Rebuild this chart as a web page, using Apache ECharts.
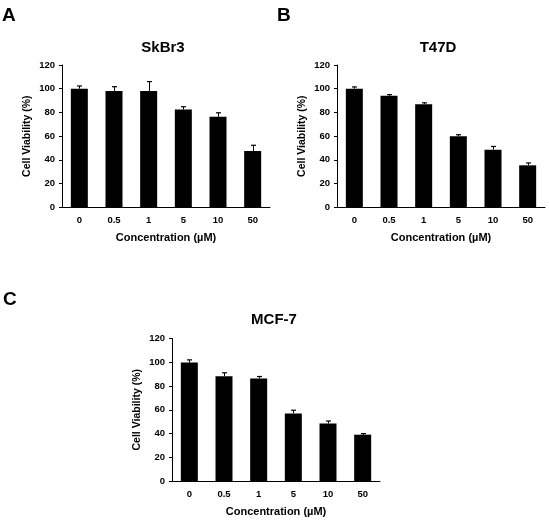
<!DOCTYPE html>
<html>
<head>
<meta charset="utf-8">
<script src="https://cdn.jsdelivr.net/npm/echarts@6/dist/echarts.min.js"></script>
<style>
html,body{margin:0;padding:0;background:#fff;}
#main{width:549px;height:520px;}
</style>
</head>
<body>
<div id="main"></div>
<script>
var categories = ['0', '0.5', '1', '5', '10', '50'];
var skbr3Values = [100, 98, 98, 82.5, 76.3, 47.5];
var skbr3Errors = [2.3, 3.7, 8, 2.3, 3.4, 4.8];
var t47dValues = [100, 94, 86.9, 60, 48.6, 35.4];
var t47dErrors = [1.5, 1, 1.2, 1.2, 2.7, 2];
var mcf7Values = [99.8, 88.3, 86.4, 56.9, 48.5, 39];
var mcf7Errors = [2.2, 2.8, 1.6, 2.7, 2, 0.9];
var yTicks = { min: 0, max: 120, interval: 20 };
var panelLetters = ['A', 'B', 'C'];
var panelTitles = ['SkBr3', 'T47D', 'MCF-7'];
var xName = 'Concentration (\u00b5M)';
var yName = 'Cell Viability (%)';

var FONT = '"Liberation Sans", Arial, sans-serif';
var grids = [
  { left: 62, top: 65, width: 208, height: 142.3 },
  { left: 337, top: 65, width: 208, height: 142.3 },
  { left: 172, top: 338.5, width: 208, height: 142.5 }
];
var letterPos = [
  { left: 2, top: 6 }, { left: 277, top: 6 }, { left: 3, top: 290 }
];
var titlePos = [
  { left: 163, top: 40 }, { left: 438, top: 40 }, { left: 274, top: 312 }
];
var seriesValues = [skbr3Values, t47dValues, mcf7Values];
var seriesErrors = [skbr3Errors, t47dErrors, mcf7Errors];

var titles = [];
var xAxes = [], yAxes = [], series = [];
for (var i = 0; i < 3; i++) {
  titles.push({ text: panelLetters[i], left: letterPos[i].left, top: letterPos[i].top, padding: 0,
    textStyle: { fontFamily: FONT, fontWeight: 'bold', fontSize: 19, color: '#000' } });
  titles.push({ text: panelTitles[i], left: titlePos[i].left, top: titlePos[i].top, textAlign: 'center', padding: 0,
    textStyle: { fontFamily: FONT, fontWeight: 'bold', fontSize: 15, color: '#000' } });
  xAxes.push({
    type: 'category', gridIndex: i, data: categories,
    name: xName, nameLocation: 'middle', nameGap: 25,
    nameTextStyle: { fontFamily: FONT, fontWeight: 'bold', fontSize: 11, color: '#000' },
    axisLine: { lineStyle: { color: '#000', width: 1 } },
    axisTick: { show: false },
    axisLabel: { fontFamily: FONT, fontWeight: 'bold', fontSize: 9.5, color: '#000', margin: 8 }
  });
  yAxes.push({
    type: 'value', gridIndex: i, min: yTicks.min, max: yTicks.max, interval: yTicks.interval,
    name: yName, nameLocation: 'middle', nameGap: 29,
    nameTextStyle: { fontFamily: FONT, fontWeight: 'bold', fontSize: 10.5, color: '#000' },
    axisLine: { show: true, lineStyle: { color: '#000', width: 1 } },
    axisTick: { show: true, length: 3, lineStyle: { color: '#000' } },
    splitLine: { show: false },
    axisLabel: { fontFamily: FONT, fontWeight: 'bold', fontSize: 9.5, color: '#000', margin: 7 }
  });
  series.push({
    type: 'bar', xAxisIndex: i, yAxisIndex: i, data: seriesValues[i],
    barWidth: 17, itemStyle: { color: '#000' }, silent: true
  });
  (function (vals, errs, idx) {
    series.push({
      type: 'custom', xAxisIndex: idx, yAxisIndex: idx,
      data: vals.map(function (v, k) { return [k, v, errs[k]]; }),
      renderItem: function (params, api) {
        var k = api.value(0), v = api.value(1), e = api.value(2);
        var p0 = api.coord([k, v]);
        var p1 = api.coord([k, v + e]);
        var x = Math.round(p0[0]) + 0.5;
        return {
          type: 'group',
          children: [
            { type: 'line', shape: { x1: x, y1: p0[1], x2: x, y2: p1[1] }, style: { stroke: '#000', lineWidth: 1 } },
            { type: 'line', shape: { x1: x - 2.5, y1: p1[1], x2: x + 2.5, y2: p1[1] }, style: { stroke: '#000', lineWidth: 1.2 } }
          ]
        };
      },
      silent: true, z: 3
    });
  })(seriesValues[i], seriesErrors[i], i);
}

var chart = echarts.init(document.getElementById('main'), null, { renderer: 'canvas' });
chart.setOption({
  backgroundColor: '#fff',
  animation: false,
  title: titles,
  grid: grids,
  xAxis: xAxes,
  yAxis: yAxes,
  series: series
});
</script>
</body>
</html>
